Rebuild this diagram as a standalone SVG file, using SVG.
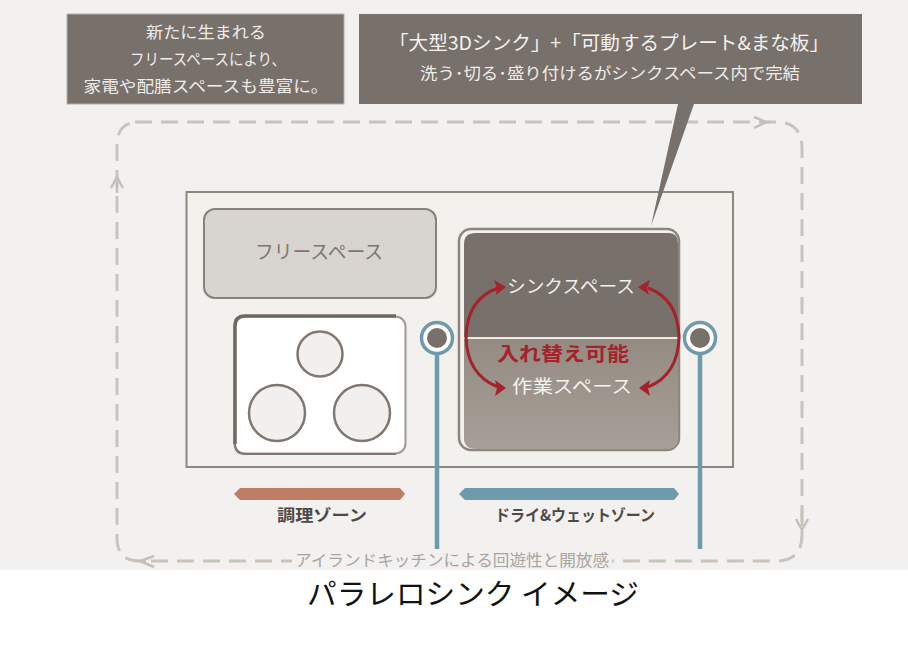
<svg xmlns="http://www.w3.org/2000/svg" width="908" height="654" viewBox="0 0 908 654">
<defs>
<style>
text{font-family:"Noto Sans CJK JP","Noto Sans",sans-serif;text-anchor:middle}
.w{fill:#efedea;font-size:16px}
.z{fill:#4f4946;font-size:16px;font-weight:700}
.loop{fill:none;stroke:#c9c3bd;stroke-width:3;stroke-dasharray:17 9}
.ah{fill:none;stroke:#c5bfb9;stroke-width:2.500}
.teal{stroke:#6f9aab;stroke-width:4.500;fill:none}
.red{fill:none;stroke:#a5222a;stroke-width:3}
.redh{fill:#a5222a}
.burner{fill:#f2f0ee;stroke:#807870;stroke-width:2.500}
</style>
<linearGradient id="lower" x1="0" y1="0" x2="0" y2="1"><stop offset="0" stop-color="#948b83"/><stop offset="1" stop-color="#a79f97"/></linearGradient>
</defs>
<rect id="background" x="0" y="0" width="908" height="570" fill="#f2f1f0"/>
<g id="connectors">
<path class="loop" d="M135 122H776Q802 122 802 148V535Q802 561 776 561H612"/>
<path class="loop" d="M292 561H140Q117 561 117 538V145Q117 122 139 122" stroke-dashoffset="6"/>
<path class="ah" d="M754 117L766 122L754 128M761 122H770"/>
<path class="ah" d="M111 188L117 177L123 188M117 182V193"/>
<path class="ah" d="M796 519L802 530L808 519M802 510V526"/>
<path class="ah" d="M154 556L140 561L154 567M146 561H135"/>
</g>
<g id="counter">
<rect x="186.500" y="192" width="546.500" height="275" fill="#f3f1ee" stroke="#8d867f" stroke-width="2"/>
</g>
<g id="callout-left">
<rect x="67" y="14" width="277" height="90" fill="#78706a" stroke="#b5afa9"/>
<text class="w" x="206" y="38" textLength="120" lengthAdjust="spacingAndGlyphs">新たに生まれる</text>
<text class="w" x="208" y="65" textLength="156" lengthAdjust="spacingAndGlyphs">フリースペースにより、</text>
<text class="w" x="206" y="92" textLength="245" lengthAdjust="spacingAndGlyphs">家電や配膳スペースも豊富に。</text>
</g>
<g id="callout-right">
<path d="M359 14H862V104H694L651 226L678 104H359Z" fill="#78706a"/>
<text x="609" y="50" fill="#f4f2ef" font-size="19" textLength="440" lengthAdjust="spacingAndGlyphs">「大型3Dシンク」+「可動するプレート&amp;まな板」</text>
<text class="w" x="610" y="79" textLength="380" lengthAdjust="spacingAndGlyphs">洗う･切る･盛り付けるがシンクスペース内で完結</text>
</g>
<g id="free-space">
<rect x="204" y="209" width="232" height="89" rx="11" fill="#d8d4d0" stroke="#88817a" stroke-width="2"/>
<text x="319" y="259" fill="#7d766f" font-size="19" textLength="128" lengthAdjust="spacingAndGlyphs">フリースペース</text>
</g>
<g id="cooktop">
<rect x="234.500" y="316.500" width="171" height="137" rx="10" fill="#fff" stroke="#a09992" stroke-width="2"/>
<path d="M235 444V326Q235 316 245 316H396" fill="none" stroke="#6f6861" stroke-width="3.500"/>
<path d="M235 444Q235 454 245 454H396" fill="none" stroke="#7f7871" stroke-width="2"/>
<circle class="burner" cx="320" cy="354" r="22.500"/>
<circle class="burner" cx="277" cy="413" r="28"/>
<circle class="burner" cx="362" cy="413" r="28"/>
</g>
<g id="sink">
<rect x="459" y="229" width="220" height="221" rx="12" fill="#f3f1ee" stroke="#8d867f" stroke-width="2.500"/>
<path d="M464 337V244Q464 233 476 233H669Q678 233 678 244V337Z" fill="#78706a"/>
<path d="M464 339H678V438Q678 449 667 449H476Q464 449 464 438Z" fill="url(#lower)"/>
<path d="M464 338H678" stroke="#eeeae6" stroke-width="2"/>
<text x="571" y="293" fill="#f2f0ed" font-size="18" textLength="128" lengthAdjust="spacingAndGlyphs">シンクスペース</text>
<text x="572" y="393" fill="#f5f3f0" font-size="18" textLength="120" lengthAdjust="spacingAndGlyphs">作業スペース</text>
<text x="563" y="361" fill="#a5222a" font-size="19" font-weight="700" textLength="132" lengthAdjust="spacingAndGlyphs">入れ替え可能</text>
<path class="red" d="M498 288Q467 299 466 337Q467 375 498 387"/>
<path class="redh" d="M506 287L494 280L497 288L496 295Z"/>
<path class="redh" d="M506 388L495 380L497 388L495 396Z"/>
<path class="red" d="M648 288Q678 299 679 337Q678 375 648 387"/>
<path class="redh" d="M638 287L650 280L647 288L649 295Z"/>
<path class="redh" d="M639 388L650 380L648 388L650 396Z"/>
</g>
<g id="marker-left">
<path class="teal" d="M437 354V549"/>
<circle cx="437" cy="338" r="15.500" fill="#fff" stroke="#6f9aab" stroke-width="3.500"/>
<circle cx="437" cy="338" r="10" fill="#78706a"/>
</g>
<g id="marker-right">
<path class="teal" d="M700 354V549"/>
<circle cx="700" cy="338" r="15.500" fill="#fff" stroke="#6f9aab" stroke-width="3.500"/>
<circle cx="700" cy="338" r="10" fill="#78706a"/>
</g>
<g id="zone-cooking">
<path d="M234 494L240 488H400L405 494L400 500H240Z" fill="#bf7d67"/>
<text class="z" x="322" y="521" textLength="90" lengthAdjust="spacingAndGlyphs">調理ゾーン</text>
</g>
<g id="zone-dry-wet">
<path d="M459 494L465 488H674L679 494L674 500H465Z" fill="#6f9aab"/>
<text class="z" x="575" y="521" textLength="160" lengthAdjust="spacingAndGlyphs">ドライ&amp;ウェットゾーン</text>
</g>
<text id="loop-label" x="452" y="566" fill="#aaa49e" font-size="16" textLength="314" lengthAdjust="spacingAndGlyphs">アイランドキッチンによる回遊性と開放感</text>
<rect id="caption-band" x="0" y="570" width="908" height="84" fill="#fff"/>
<text id="caption" x="473" y="605" fill="#111" font-size="29" textLength="332" lengthAdjust="spacingAndGlyphs">パラレロシンク イメージ</text>
</svg>
